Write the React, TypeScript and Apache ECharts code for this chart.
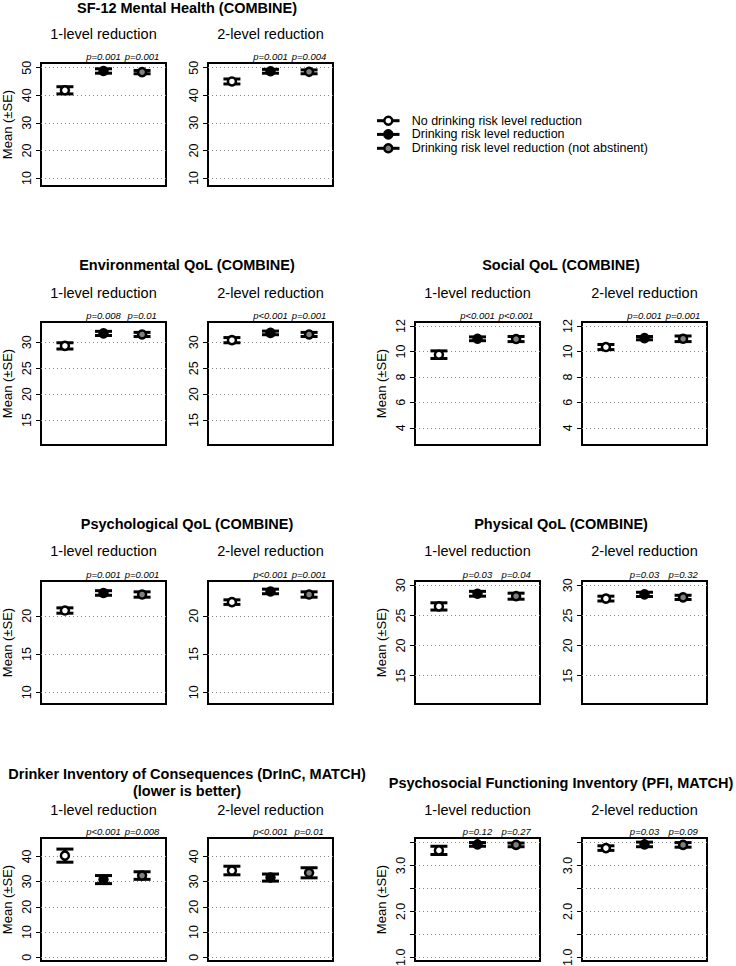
import React, { useEffect, useRef } from "react";
import * as echarts from "echarts";

// ---------- data ----------
const groupNames = [
  "No drinking risk level reduction",
  "Drinking risk level reduction",
  "Drinking risk level reduction (not abstinent)",
];
const subtitles = ["1-level reduction", "2-level reduction"];
const yAxisName = "Mean (±SE)";

// SF-12 Mental Health (COMBINE)
const sf12Title = ["SF-12 Mental Health (COMBINE)"];
const sf12Mean1 = [41.8, 48.8, 48.4];
const sf12SE1 = [1.3, 0.8, 0.6];
const sf12P1 = ["p=0.001", "p=0.001"];
const sf12Mean2 = [45.0, 48.7, 48.5];
const sf12SE2 = [0.9, 0.7, 0.7];
const sf12P2 = ["p=0.001", "p=0.004"];
const sf12Ticks = [10, 20, 30, 40, 50];
const sf12Range = [7.1, 51.7];

// Environmental QoL (COMBINE)
const envTitle = ["Environmental QoL (COMBINE)"];
const envMean1 = [29.3, 31.7, 31.5];
const envSE1 = [0.6, 0.4, 0.4];
const envP1 = ["p=0.008", "p=0.01"];
const envMean2 = [30.4, 31.8, 31.5];
const envSE2 = [0.5, 0.35, 0.4];
const envP2 = ["p<0.001", "p=0.001"];
const envTicks = [15, 20, 25, 30];
const envRange = [10.2, 33.9];

// Social QoL (COMBINE)
const socTitle = ["Social QoL (COMBINE)"];
const socMean1 = [9.75, 11.0, 10.98];
const socSE1 = [0.3, 0.15, 0.2];
const socP1 = ["p<0.001", "p<0.001"];
const socMean2 = [10.35, 11.05, 11.0];
const socSE2 = [0.2, 0.13, 0.22];
const socP2 = ["p=0.001", "p=0.001"];
const socTicks = [4, 6, 8, 10, 12];
const socRange = [2.65, 12.32];

// Psychological QoL (COMBINE)
const psyTitle = ["Psychological QoL (COMBINE)"];
const psyMean1 = [20.7, 23.0, 22.8];
const psySE1 = [0.35, 0.3, 0.35];
const psyP1 = ["p=0.001", "p=0.001"];
const psyMean2 = [21.8, 23.2, 22.8];
const psySE2 = [0.3, 0.3, 0.35];
const psyP2 = ["p<0.001", "p=0.001"];
const psyTicks = [10, 15, 20];
const psyRange = [8.45, 24.57];

// Physical QoL (COMBINE)
const phyTitle = ["Physical QoL (COMBINE)"];
const phyMean1 = [26.5, 28.6, 28.2];
const phySE1 = [0.6, 0.4, 0.5];
const phyP1 = ["p=0.03", "p=0.04"];
const phyMean2 = [27.8, 28.5, 28.0];
const phySE2 = [0.4, 0.35, 0.35];
const phyP2 = ["p=0.03", "p=0.32"];
const phyTicks = [15, 20, 25, 30];
const phyRange = [10.3, 30.72];

// Drinker Inventory of Consequences (DrInC, MATCH)
const drincTitle = ["Drinker Inventory of Consequences (DrInC, MATCH)", "(lower is better)"];
const drincMean1 = [40.3, 30.8, 32.4];
const drincSE1 = [2.6, 1.6, 1.5];
const drincP1 = ["p<0.001", "p=0.008"];
const drincMean2 = [34.4, 31.6, 33.5];
const drincSE2 = [1.7, 1.4, 2.0];
const drincP2 = ["p<0.001", "p=0.01"];
const drincTicks = [0, 10, 20, 30, 40];
const drincRange = [-1.5, 47.3];

// Psychosocial Functioning Inventory (PFI, MATCH)
const pfiTitle = ["Psychosocial Functioning Inventory (PFI, MATCH)"];
const pfiMean1 = [3.33, 3.46, 3.45];
const pfiSE1 = [0.09, 0.04, 0.04];
const pfiP1 = ["p=0.12", "p=0.27"];
const pfiMean2 = [3.38, 3.46, 3.45];
const pfiSE2 = [0.05, 0.05, 0.05];
const pfiP2 = ["p=0.03", "p=0.09"];
const pfiTicks = [1.0, 1.5, 2.0, 2.5, 3.0, 3.5];
const pfiLabels = [1.0, 2.0, 3.0];
const pfiRange = [0.92, 3.6];

// ---------- layout / style ----------
const FONT = "Liberation Sans, Arial, Helvetica, sans-serif";
const COL_LEFTS = [41, 208, 415, 582];
const ROW_TOPS = [63, 322, 581, 838];
const BOX_W = 125;
const BOX_H = 123;
const TITLE_Y = [8, 265, 524, 782.5];
const SUBTITLE_Y = [34, 292.5, 551, 809.5];
const X_MIN = 0.38;
const X_MAX = 3.62;
const CAP = 8.5;
const FILLS = ["#ffffff", "#000000", "#808080"];

type Panel = {
  title: string[];
  means: number[][];
  ses: number[][];
  ps: string[][];
  ticks: number[];
  labels: number[];
  decimals: number;
  range: number[];
  row: number;
  col: number;
};

const panels: Panel[] = [
  { title: sf12Title, means: [sf12Mean1, sf12Mean2], ses: [sf12SE1, sf12SE2], ps: [sf12P1, sf12P2], ticks: sf12Ticks, labels: sf12Ticks, decimals: 0, range: sf12Range, row: 0, col: 0 },
  { title: envTitle, means: [envMean1, envMean2], ses: [envSE1, envSE2], ps: [envP1, envP2], ticks: envTicks, labels: envTicks, decimals: 0, range: envRange, row: 1, col: 0 },
  { title: socTitle, means: [socMean1, socMean2], ses: [socSE1, socSE2], ps: [socP1, socP2], ticks: socTicks, labels: socTicks, decimals: 0, range: socRange, row: 1, col: 1 },
  { title: psyTitle, means: [psyMean1, psyMean2], ses: [psySE1, psySE2], ps: [psyP1, psyP2], ticks: psyTicks, labels: psyTicks, decimals: 0, range: psyRange, row: 2, col: 0 },
  { title: phyTitle, means: [phyMean1, phyMean2], ses: [phySE1, phySE2], ps: [phyP1, phyP2], ticks: phyTicks, labels: phyTicks, decimals: 0, range: phyRange, row: 2, col: 1 },
  { title: drincTitle, means: [drincMean1, drincMean2], ses: [drincSE1, drincSE2], ps: [drincP1, drincP2], ticks: drincTicks, labels: drincTicks, decimals: 0, range: drincRange, row: 3, col: 0 },
  { title: pfiTitle, means: [pfiMean1, pfiMean2], ses: [pfiSE1, pfiSE2], ps: [pfiP1, pfiP2], ticks: pfiTicks, labels: pfiLabels, decimals: 1, range: pfiRange, row: 3, col: 1 },
];

function buildOption() {
  const grids: any[] = [];
  const xAxes: any[] = [];
  const yAxes: any[] = [];
  const series: any[] = [];
  const graphics: any[] = [];

  panels.forEach((panel) => {
    const pairCenter = (COL_LEFTS[panel.col * 2] + COL_LEFTS[panel.col * 2 + 1] + BOX_W) / 2;
    // panel title
    if (panel.title.length === 1) {
      graphics.push({
        type: "text", x: pairCenter, y: TITLE_Y[panel.row], silent: true,
        style: { text: panel.title[0], font: `bold 14.5px ${FONT}`, fill: "#000", align: "center", verticalAlign: "middle" },
      });
    } else {
      panel.title.forEach((t, i) => {
        graphics.push({
          type: "text", x: pairCenter, y: TITLE_Y[panel.row] - 9 + i * 17.5, silent: true,
          style: { text: t, font: `bold 14.5px ${FONT}`, fill: "#000", align: "center", verticalAlign: "middle" },
        });
      });
    }

    [0, 1].forEach((k) => {
      const idx = grids.length;
      const left = COL_LEFTS[panel.col * 2 + k];
      const top = ROW_TOPS[panel.row];
      graphics.push({
        type: "text", x: left + BOX_W / 2, y: SUBTITLE_Y[panel.row], silent: true,
        style: { text: subtitles[k], font: `14.5px ${FONT}`, fill: "#000", align: "center", verticalAlign: "middle" },
      });
      grids.push({
        left, top, width: BOX_W, height: BOX_H, show: true,
        borderColor: "#000", borderWidth: 2, backgroundColor: "transparent",
        containLabel: false, outerBoundsMode: "none",
      });
      xAxes.push({ type: "value", gridIndex: idx, min: X_MIN, max: X_MAX, show: false, splitLine: { show: false } });
      yAxes.push({
        type: "value", gridIndex: idx, min: panel.range[0], max: panel.range[1],
        name: k === 0 ? yAxisName : "",
        nameLocation: "middle", nameGap: 27,
        nameTextStyle: { fontFamily: FONT, fontSize: 13, color: "#000" },
        axisLine: { show: false },
        axisTick: { show: true, length: 5, inside: false, customValues: panel.ticks, lineStyle: { color: "#000", width: 1 } },
        axisLabel: {
          show: true, customValues: panel.labels, rotate: 90, margin: 8,
          fontFamily: FONT, fontSize: 12.5, color: "#000",
          formatter: (v: number) => Number(v).toFixed(panel.decimals),
        },
        splitLine: { show: true, lineStyle: { color: "#8a8a8a", type: [1, 3], width: 1 } },
      });

      const means = panel.means[k];
      const ses = panel.ses[k];
      series.push({
        type: "custom", xAxisIndex: idx, yAxisIndex: idx, silent: true, z: 2, clip: false,
        data: means.map((m, i) => [i + 1, m, ses[i]]),
        encode: { x: 0, y: 1 },
        renderItem: (_params: any, api: any) => {
          const x = api.value(0);
          const m = api.value(1);
          const s = api.value(2);
          const t = api.coord([x, m + s]);
          const b = api.coord([x, m - s]);
          const style = { stroke: "#000", lineWidth: 3, fill: "none" };
          return {
            type: "group",
            children: [
              { type: "line", shape: { x1: t[0], y1: t[1], x2: b[0], y2: b[1] }, style },
              { type: "line", shape: { x1: t[0] - CAP, y1: t[1], x2: t[0] + CAP, y2: t[1] }, style },
              { type: "line", shape: { x1: b[0] - CAP, y1: b[1], x2: b[0] + CAP, y2: b[1] }, style },
            ],
          };
        },
      });
      means.forEach((m, g) => {
        series.push({
          type: "scatter", name: groupNames[g], xAxisIndex: idx, yAxisIndex: idx, silent: true, z: 3,
          data: [[g + 1, m]], symbol: "circle", symbolSize: 8,
          itemStyle: { color: FILLS[g], borderColor: "#000", borderWidth: 2.5, opacity: 1 },
        });
      });
      series.push({
        type: "scatter", xAxisIndex: idx, yAxisIndex: idx, silent: true, clip: false, z: 4,
        data: panel.ps[k].map((p, i) => ({ value: [i + 2, panel.range[1]], name: p })),
        symbolSize: 0,
        itemStyle: { color: "#000", opacity: 1 },
        label: {
          show: true, position: "top", distance: 2, formatter: "{b}", opacity: 1,
          fontFamily: FONT, fontStyle: "italic", fontSize: 9.5, lineHeight: 10, color: "#000",
          textBorderWidth: 0,
        },
      });
    });
  });

  // legend
  const LEG_Y = [120.7, 134.4, 148.3];
  groupNames.forEach((name, g) => {
    const y = LEG_Y[g];
    graphics.push({ type: "line", silent: true, shape: { x1: 377, y1: y, x2: 399.5, y2: y }, style: { stroke: "#000", lineWidth: 3 } });
    graphics.push({ type: "circle", silent: true, shape: { cx: 388.3, cy: y, r: 4 }, style: { fill: FILLS[g], stroke: "#000", lineWidth: 2.5 } });
    graphics.push({
      type: "text", silent: true, x: 411.7, y,
      style: { text: name, font: `12.5px ${FONT}`, fill: "#000", align: "left", verticalAlign: "middle" },
    });
  });

  return {
    animation: false,
    backgroundColor: "#ffffff",
    textStyle: { fontFamily: FONT },
    grid: grids,
    xAxis: xAxes,
    yAxis: yAxes,
    series,
    graphic: { elements: graphics },
  };
}

export default function App() {
  const ref = useRef<HTMLDivElement>(null);
  useEffect(() => {
    if (!ref.current) return;
    const chart = echarts.init(ref.current, null, { renderer: "svg" });
    chart.setOption(buildOption() as any);
    return () => chart.dispose();
  }, []);
  return (
    <div
      ref={ref}
      style={{ position: "absolute", left: 0, top: 0, width: 736, height: 966, background: "#fff" }}
    />
  );
}
